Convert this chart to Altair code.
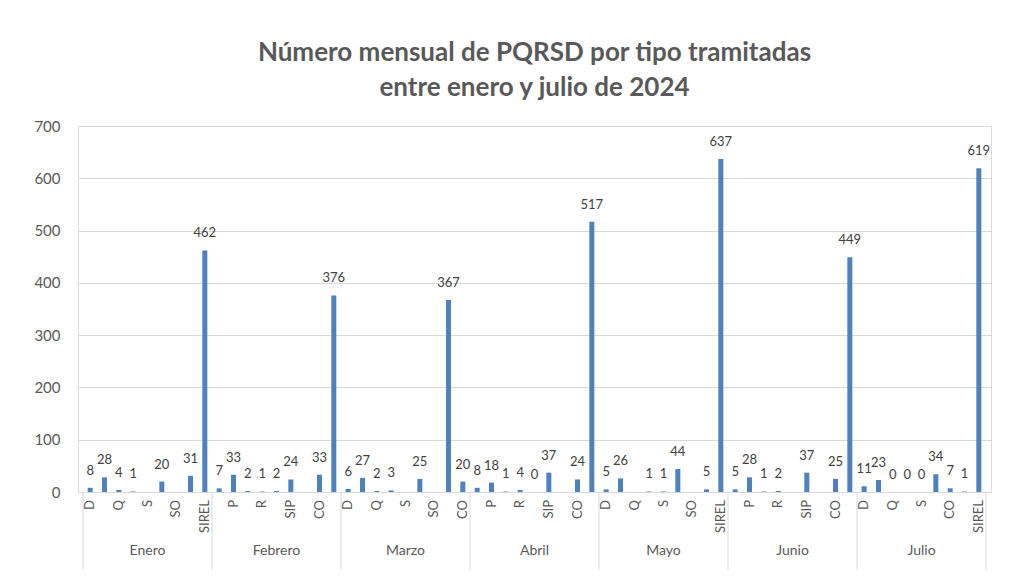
import altair as alt
import pandas as pd

months = ["Enero", "Febrero", "Marzo", "Abril", "Mayo", "Junio", "Julio"]

cats_enero = ["D", "P", "Q", "R", "S", "SIP", "SO", "CO", "SIREL"]
vals_enero = [8, 28, 4, 1, None, 20, None, 31, 462]

cats_febrero = ["D", "P", "Q", "R", "S", "SIP", "SO", "CO", "SIREL"]
vals_febrero = [7, 33, 2, 1, 2, 24, None, 33, 376]

cats_marzo = ["D", "P", "Q", "R", "S", "SIP", "SO", "SIREL", "CO"]
vals_marzo = [6, 27, 2, 3, None, 25, None, 367, 20]

cats_abril = ["D", "P", "Q", "R", "S", "SIP", "SO", "CO", "SIREL"]
vals_abril = [8, 18, 1, 4, 0, 37, None, 24, 517]

cats_mayo = ["D", "P", "Q", "R", "S", "SIP", "SO", "CO", "SIREL"]
vals_mayo = [5, 26, None, 1, 1, 44, None, 5, 637]

cats_junio = ["D", "P", "Q", "R", "S", "SIP", "SO", "CO", "SIREL"]
vals_junio = [5, 28, 1, 2, None, 37, None, 25, 449]

cats_julio = ["D", "P", "Q", "R", "S", "SIP", "CO", "SO", "SIREL"]
vals_julio = [11, 23, 0, 0, 0, 34, 7, 1, 619]

all_cats = [cats_enero, cats_febrero, cats_marzo, cats_abril, cats_mayo, cats_junio, cats_julio]
all_vals = [vals_enero, vals_febrero, vals_marzo, vals_abril, vals_mayo, vals_junio, vals_julio]

rows = []
bounds = []
centers = []
idx = 0
for m, cats, vals in zip(months, all_cats, all_vals):
    bounds.append(idx + 0.5)
    start = idx + 1
    for c, v in zip(cats, vals):
        idx += 1
        rows.append({"idx": idx, "mes": m, "cat": c, "value": v,
                     "show": c if idx % 2 == 1 else ""})
    centers.append({"center": (start + idx) / 2, "mes": m})
bounds.append(idx + 0.5)

df = pd.DataFrame(rows)
df_b = pd.DataFrame({"b": bounds})
df_c = pd.DataFrame(centers)

H = 366
W = 913
FONT = "Lato"

xscale = alt.Scale(domain=[0.5, idx + 0.5], nice=False, zero=False)

bars = alt.Chart(df).transform_filter("datum.value != null && datum.value > 0").mark_bar(
    size=5, color="#4F81BD"
).encode(
    x=alt.X("idx:Q", scale=xscale, title=None,
            axis=alt.Axis(labels=False, ticks=False, grid=False, domainColor="#d9d9d9")),
    y=alt.Y("value:Q", scale=alt.Scale(domain=[0, 700], nice=False), title=None,
            axis=alt.Axis(values=[0, 100, 200, 300, 400, 500, 600, 700], ticks=False,
                          domain=False, gridColor="#d9d9d9", labelPadding=18,
                          labelFont=FONT, labelFontSize=15, labelColor="#595959")),
)

texts = alt.Chart(df).transform_filter("datum.value != null").mark_text(
    baseline="middle", dy=-17, font=FONT, fontSize=13, color="#404040"
).encode(
    x=alt.X("idx:Q", scale=xscale),
    y=alt.Y("value:Q"),
    text=alt.Text("value:Q", format="d"),
)

catlabels = alt.Chart(df).mark_text(
    angle=270, align="right", baseline="middle", font=FONT, fontSize=13, color="#595959"
).encode(
    x=alt.X("idx:Q", scale=xscale),
    y=alt.value(H + 8),
    text="show:N",
)

seps = alt.Chart(df_b).mark_rule(color="#d9d9d9", strokeWidth=1).encode(
    x=alt.X("b:Q", scale=xscale),
    y=alt.value(H),
    y2=alt.value(H + 78),
)

mlabels = alt.Chart(df_c).mark_text(
    baseline="middle", font=FONT, fontSize=14, color="#595959"
).encode(
    x=alt.X("center:Q", scale=xscale),
    y=alt.value(H + 59),
    text="mes:N",
)

chart = alt.layer(bars, texts, catlabels, seps, mlabels).properties(
    width=W, height=H,
    title=alt.TitleParams(
        ["Número mensual de PQRSD por tipo tramitadas", "entre enero y julio de 2024"],
        font=FONT, fontSize=26, fontWeight="bold", color="#595959",
        anchor="middle", offset=18, lineHeight=35,
    ),
    autosize=alt.AutoSizeParams(type="none"),
    padding={"left": 70, "top": 118, "right": 31, "bottom": 87},
).configure_view(stroke=None).configure(background="white")

chart.save("out.html", embed_options={"renderer": "svg", "actions": False})
